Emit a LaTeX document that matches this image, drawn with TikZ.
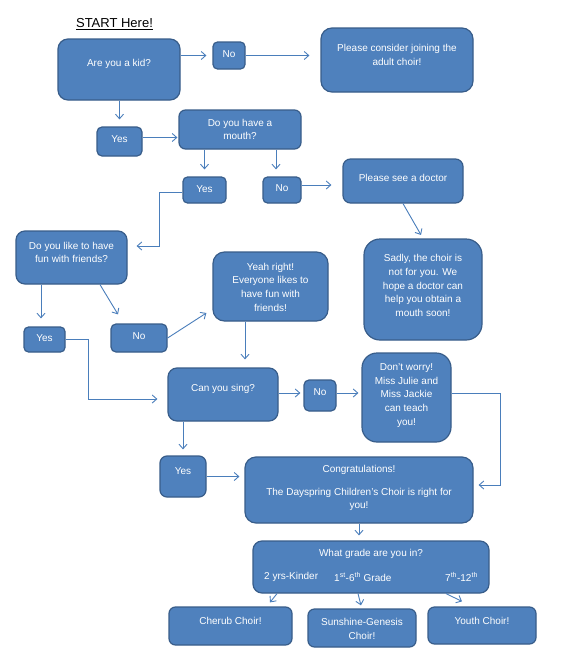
\documentclass[tikz,border=0pt]{standalone}
\usepackage{fontspec}
\setmainfont{Liberation Sans}
\usetikzlibrary{arrows.meta,calc}
\definecolor{boxfill}{HTML}{4F81BD}
\definecolor{boxline}{HTML}{385D8A}
\definecolor{arrcol}{HTML}{4A7EBB}
\begin{document}
\begin{tikzpicture}[x=1pt,y=-1pt,
  box/.style={draw=boxline, fill=boxfill, line width=1.2pt, inner sep=0pt},
  txt/.style={text=white, font=\fontsize{10}{13.7}\selectfont, align=center, inner sep=0pt},
  arr/.style={draw=arrcol, line width=0.9pt, -{Straight Barb[length=4.5pt,width=8pt]}}]
\fill[white] (0,0) rectangle (580,672);
\useasboundingbox (0,0) rectangle (580,672);

\node[font=\fontsize{13}{15}\selectfont, inner sep=0pt] (start) at (114.5,24) {\underline{START Here!}};

% boxes
\node[box, minimum width=122pt, minimum height=61pt, rounded corners=10pt] (kid) at (119,69.5) {};
\node[box, minimum width=32pt, minimum height=27pt, rounded corners=4.5pt] (no1) at (229,55.5) {};
\node[box, minimum width=152pt, minimum height=64pt, rounded corners=11pt] (adult) at (397,60) {};
\node[box, minimum width=45pt, minimum height=29pt, rounded corners=5pt] (yes1) at (119.5,141.5) {};
\node[box, minimum width=122pt, minimum height=39pt, rounded corners=6.5pt] (mouth) at (240,129.5) {};
\node[box, minimum width=43pt, minimum height=26pt, rounded corners=4.5pt] (yes2) at (204.5,190) {};
\node[box, minimum width=38pt, minimum height=26pt, rounded corners=4.5pt] (no2) at (282,190) {};
\node[box, minimum width=120pt, minimum height=44pt, rounded corners=7.5pt] (doctor) at (403,181) {};
\node[box, minimum width=118pt, minimum height=101pt, rounded corners=16pt] (sadly) at (423,289.5) {};
\node[box, minimum width=111pt, minimum height=53pt, rounded corners=9pt] (fun) at (71.5,257.5) {};
\node[box, minimum width=41pt, minimum height=25pt, rounded corners=4.5pt] (yes3) at (44.5,339.5) {};
\node[box, minimum width=56pt, minimum height=28pt, rounded corners=5pt] (no3) at (139,338) {};
\node[box, minimum width=115pt, minimum height=69pt, rounded corners=11.5pt] (yeah) at (270.5,286.5) {};
\node[box, minimum width=110pt, minimum height=53pt, rounded corners=9pt] (sing) at (223,394.5) {};
\node[box, minimum width=32pt, minimum height=31pt, rounded corners=5pt] (no4) at (320,395.5) {};
\node[box, minimum width=89pt, minimum height=89pt, rounded corners=15pt] (worry) at (406.5,397.5) {};
\node[box, minimum width=46pt, minimum height=41pt, rounded corners=7pt] (yes4) at (183,476.5) {};
\node[box, minimum width=228pt, minimum height=66pt, rounded corners=11pt] (congrats) at (359,490) {};
\node[box, minimum width=236pt, minimum height=52pt, rounded corners=9pt] (grade) at (371,567) {};
\node[box, minimum width=123pt, minimum height=38pt, rounded corners=6.5pt] (cherub) at (230.5,626) {};
\node[box, minimum width=108pt, minimum height=38pt, rounded corners=6.5pt] (sunshine) at (362,628) {};
\node[box, minimum width=108pt, minimum height=37pt, rounded corners=6.5pt] (youth) at (482,625.5) {};

% texts
\node[txt] (kidT) at (119,64) {Are you a kid?};
\node[txt] (no1T) at (229,54) {No};
\node[txt] (adultT) at (397,55) {Please consider joining the\\adult choir!};
\node[txt] (yes1T) at (119.5,139) {Yes};
\node[txt] (mouthT) at (240,129.5) {Do you have a\\mouth?};
\node[txt] (yes2T) at (204.5,189) {Yes};
\node[txt] (no2T) at (282,188) {No};
\node[txt] (doctorT) at (403,178) {Please see a doctor};
\node[txt] (sadlyT) at (423,285.5) {Sadly, the choir is\\not for you. We\\hope a doctor can\\help you obtain a\\mouth soon!};
\node[txt] (funT) at (71.5,252.5) {Do you like to have\\fun with friends?};
\node[txt] (yes3T) at (44.5,338) {Yes};
\node[txt] (no3T) at (139,336) {No};
\node[txt] (yeahT) at (270.5,287) {Yeah right!\\Everyone likes to\\have fun with\\friends!};
\node[txt] (singT) at (223,389) {Can you sing?};
\node[txt] (no4T) at (320,392) {No};
\node[txt] (worryT) at (406.5,395.5) {Don’t worry!\\Miss Julie and\\Miss Jackie\\can teach\\you!};
\node[txt] (yes4T) at (183,471) {Yes};
\node[txt] (congratsT) at (359,488) {Congratulations!\\[9.3pt]The Dayspring Children’s Choir is right for\\you!};
\node[txt] (gradeT) at (371,554) {What grade are you in?};
\node[txt, anchor=west] (g1) at (264,577) {2 yrs-Kinder};
\node[txt, anchor=west] (g2) at (334,577) {1\textsuperscript{st}-6\textsuperscript{th} Grade};
\node[txt, anchor=west] (g3) at (445,577) {7\textsuperscript{th}-12\textsuperscript{th}};
\node[txt] (cherubT) at (230.5,621) {Cherub Choir!};
\node[txt] (sunshineT) at (362,629) {Sunshine-Genesis\\Choir!};
\node[txt] (youthT) at (482,621) {Youth Choir!};

% connectors
\draw[arr, shorten >=6pt] (kid.east |- no1.west) -- (no1.west);
\draw[arr, shorten >=11pt] (no1.east) -- (adult.west |- no1.east);
\draw[arr, shorten >=7pt] (kid.south -| yes1.north) -- (yes1.north);
\draw[arr, shorten >=1pt] ($(yes1.east)+(0,-4)$) -- ($(yes1.east -| mouth.west)+(0,-4)$);
\draw[arr, shorten >=7pt] (mouth.south -| yes2.north) -- (yes2.north);
\draw[arr, shorten >=7pt] ($(mouth.south)+(36,0)$) -- ($(no2.north)+(-6,0)$);
\draw[arr, shorten >=11pt] ($(no2.east)+(0,-5)$) -- ($(no2.east -| doctor.west)+(0,-5)$);
\draw[arr, shorten >=4pt] (doctor.south) -- (sadly.north);
\draw[arr, shorten >=9pt] ($(yes2.west)+(0,2)$) -- ++(-23,0) |- ($(fun.east)+(0,-11.5)$);
\draw[arr, shorten >=8pt] ($(fun.south -| yes3.north)+(-3.5,0)$) -- ($(yes3.north)+(-3.5,0)$);
\draw[arr] ($(fun.south)+(28.5,0)$) -- ($(no3.north)+(-21,-9)$);
\draw[arr] (no3.east) -- ($(yeah.west)+(-6,26.5)$);
\draw[arr] ($(yeah.south)+(-25.5,0)$) -- ($(sing.north)+(22,-8)$);
\draw[arr, shorten >=10pt] (yes3.east) -- ++(23,0) |- ($(sing.west)+(0,4.5)$);
\draw[arr, shorten >=3pt] ($(sing.east |- no4.west)+(0,-2.5)$) -- ($(no4.west)+(0,-2.5)$);
\draw[arr, shorten >=3pt] ($(no4.east)+(0,-2.5)$) -- ($(no4.east -| worry.west)+(0,-2.5)$);
\draw[arr, shorten >=5pt] ($(worry.east)+(0,-4.5)$) -- ++(49,0) |- ($(congrats.east)+(0,-5)$);
\draw[arr, shorten >=6pt] (sing.south -| yes4.north) -- (yes4.north);
\draw[arr, shorten >=5pt] (yes4.east) -- (yes4.east -| congrats.west);
\draw[arr, shorten >=5pt] (congrats.south) -- (congrats.south |- grade.north);
\draw[arr] ($(grade.south)+(-94,0)$) -- ($(cherub.north)+(39.5,-4)$);
\draw[arr] ($(grade.south)+(-13,0)$) -- ($(sunshine.north)+(-1,-3)$);
\draw[arr] ($(grade.south)+(75,0)$) -- ($(youth.north)+(-20,-5)$);
\end{tikzpicture}
\end{document}
